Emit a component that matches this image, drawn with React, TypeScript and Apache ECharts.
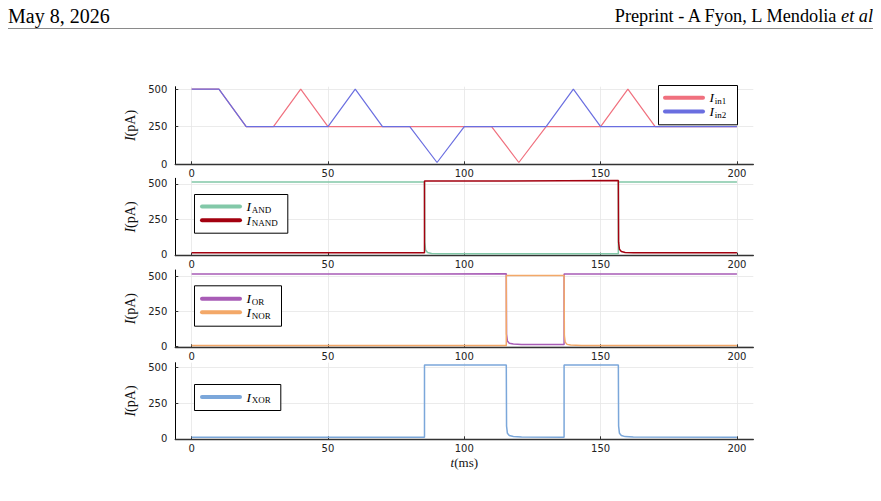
import React, { useEffect, useRef } from "react";
import * as echarts from "echarts";

// Input currents (pA) at the corners of the piecewise-linear stimuli
const in1Times = [0, 10, 20, 30, 40, 50, 110, 120, 130, 150, 160, 170, 200];
const in1Values = [500, 500, 250, 250, 500, 250, 250, 10, 250, 250, 500, 250, 250];
const in2Times = [0, 10, 20, 50, 60, 70, 80, 90, 100, 130, 140, 150, 200];
const in2Values = [500, 500, 250, 250, 500, 250, 250, 10, 250, 250, 500, 250, 250];

// Gate output currents (pA)
const andTimes = [0, 85.4, 85.5, 85.8, 86.5, 88, 91, 156.5, 156.5, 200];
const andValues = [514, 514, 90, 35, 18, 11, 8, 8, 514, 514];
const nandTimes = [0, 85.4, 85.4, 115.4, 115.4, 136.6, 136.6, 156.5, 156.6, 156.9, 157.6, 159, 162, 200];
const nandValues = [15, 15, 521, 521, 523, 523, 524, 524, 90, 40, 24, 18, 15, 15];

const orTimes = [0, 85, 85, 115.4, 115.5, 115.8, 116.5, 118, 121, 136.6, 136.6, 200];
const orValues = [519, 519, 521, 521, 90, 40, 24, 18, 15, 15, 519, 519];
const norTimes = [0, 115.4, 115.4, 136.6, 136.7, 137, 137.7, 139, 143, 200];
const norValues = [8, 8, 509, 509, 80, 32, 16, 11, 8, 8];

const xorTimes = [0, 85.4, 85.4, 115.4, 115.5, 115.8, 116.5, 118, 121, 136.6, 136.6, 156.5, 156.6, 156.9, 157.6, 159, 162, 200];
const xorValues = [12, 12, 518, 518, 90, 40, 24, 16, 13, 12, 518, 518, 90, 40, 24, 16, 13, 12];

// Axis ticks
const xTicks = [0, 50, 100, 150, 200];
const yTicks = [0, 250, 500];

// Trace subscripts and colours
const traceNames = ["in1", "in2", "AND", "NAND", "OR", "NOR", "XOR"];
const traceColors = ["#f0707e", "#6a6ee0", "#82c8a8", "#a3000f", "#a85cb6", "#f3a868", "#7ba7da"];

const SERIF = '"Liberation Serif", "DejaVu Serif", serif';
const SANS = '"DejaVu Sans", "Liberation Sans", sans-serif';

const zip = (t: number[], v: number[]) => t.map((x, i) => [x, v[i]]);

// Plot panels: pixel placement and y ranges
const panels = [
  { top: 86.7, height: 77.6, ymin: -2, ymax: 516 },
  { top: 178.3, height: 77.4, ymin: -5, ymax: 540 },
  { top: 270, height: 77.3, ymin: -5, ymax: 548 },
  { top: 362.7, height: 76.6, ymin: -3, ymax: 535 },
];

// Legend boxes (pixel placement) and the traces they list
const legendBoxes = [
  { x: 658, y: 85, w: 79, h: 39.3, lineX: 663, traces: [0, 1] },
  { x: 194, y: 194, w: 93.3, h: 38.7, lineX: 200, traces: [2, 3] },
  { x: 194, y: 285.3, w: 87, h: 40.4, lineX: 200, traces: [4, 5] },
  { x: 194, y: 384, w: 86.3, h: 26, lineX: 200, traces: [6] },
];

const gridLine = { show: true, lineStyle: { color: "#e6e6e6", width: 0.8 } };

function buildLegendGraphics() {
  const out: any[] = [];
  legendBoxes.forEach((b) => {
    out.push({
      type: "rect",
      z: 100,
      shape: { x: b.x + 0.5, y: b.y + 0.5, width: b.w, height: b.h },
      style: { fill: "#fff", stroke: "#000", lineWidth: 1 },
    });
    const n = b.traces.length;
    const rowGap = 13.7;
    const firstY = b.y + b.h / 2 - ((n - 1) * rowGap) / 2;
    b.traces.forEach((ti, k) => {
      const yy = firstY + k * rowGap;
      out.push({
        type: "line",
        z: 101,
        shape: { x1: b.lineX + 2, y1: yy, x2: b.lineX + 40, y2: yy },
        style: { stroke: traceColors[ti], lineWidth: 4, lineCap: "round" },
      });
      out.push({
        type: "text",
        z: 101,
        x: b.lineX + 46.5,
        y: yy,
        style: {
          text: "I",
          fontFamily: SERIF,
          fontStyle: "italic",
          fontSize: 13.5,
          fill: "#000",
          align: "left",
          verticalAlign: "middle",
        },
      });
      out.push({
        type: "text",
        z: 101,
        x: b.lineX + 51.8,
        y: yy + 3.2,
        style: {
          text: traceNames[ti],
          fontFamily: SERIF,
          fontSize: 9,
          fill: "#000",
          align: "left",
          verticalAlign: "middle",
        },
      });
    });
  });
  return out;
}

function buildOption(): echarts.EChartsOption {
  const grid = panels.map((p) => ({
    left: 175.3,
    width: 578,
    top: p.top,
    height: p.height,
    containLabel: false,
    outerBoundsMode: "none",
  }));

  const xAxis = panels.map((_, i) => ({
    type: "value",
    gridIndex: i,
    min: -6,
    max: 206,
    name: i === 3 ? "{i|t}{r|(ms)}" : "",
    nameLocation: "middle",
    nameGap: 17,
    nameTextStyle: {
      rich: {
        i: { fontFamily: SERIF, fontStyle: "italic", fontSize: 13, color: "#111" },
        r: { fontFamily: SERIF, fontSize: 13, color: "#111" },
      },
    },
    axisLine: { show: true, onZero: false, lineStyle: { color: "#333", width: 1.4 } },
    axisTick: { show: true, inside: true, length: 3, customValues: xTicks, lineStyle: { color: "#333" } },
    axisLabel: { customValues: xTicks, fontFamily: SANS, fontSize: 10, color: "#222", margin: 4 },
    splitLine: gridLine,
  }));

  const yAxis = panels.map((p, i) => ({
    type: "value",
    gridIndex: i,
    min: p.ymin,
    max: p.ymax,
    name: "{i|I}{r|(pA)}",
    nameLocation: "middle",
    nameRotate: 90,
    nameGap: 33,
    nameTextStyle: {
      rich: {
        i: { fontFamily: SERIF, fontStyle: "italic", fontSize: 14, color: "#111" },
        r: { fontFamily: SERIF, fontSize: 14, color: "#111" },
      },
    },
    axisLine: { show: true, onZero: false, lineStyle: { color: "#000", width: 1 } },
    axisTick: { show: true, inside: true, length: 3, customValues: yTicks, lineStyle: { color: "#333" } },
    axisLabel: { customValues: yTicks, fontFamily: SANS, fontSize: 10, color: "#222", margin: 8 },
    splitLine: gridLine,
  }));

  const line = (ti: number, idx: number, t: number[], v: number[], width = 1.3) => ({
    type: "line",
    name: traceNames[ti],
    xAxisIndex: idx,
    yAxisIndex: idx,
    data: zip(t, v),
    showSymbol: false,
    symbol: "none",
    color: traceColors[ti],
    lineStyle: { color: traceColors[ti], width },
  });

  const series = [
    line(0, 0, in1Times, in1Values, 1.2),
    line(1, 0, in2Times, in2Values, 1.2),
    line(2, 1, andTimes, andValues, 1.5),
    line(3, 1, nandTimes, nandValues, 1.5),
    line(4, 2, orTimes, orValues, 1.5),
    line(5, 2, norTimes, norValues, 1.5),
    line(6, 3, xorTimes, xorValues, 1.5),
  ];

  const graphic = [
    {
      type: "text",
      x: 8,
      y: 15.5,
      style: {
        text: "May 8, 2026",
        fontFamily: SERIF,
        fontSize: 20,
        fill: "#000",
        align: "left",
        verticalAlign: "middle",
      },
    },
    {
      type: "text",
      x: 873,
      y: 15.5,
      style: {
        text: "{n|Preprint - A Fyon, L Mendolia }{it|et al}",
        align: "right",
        verticalAlign: "middle",
        fontFamily: SERIF,
        fontSize: 18.3,
        fill: "#000",
        rich: {
          n: { fontFamily: SERIF, fontSize: 18.3, fill: "#000" },
          it: { fontFamily: SERIF, fontSize: 18.3, fontStyle: "italic", fill: "#000" },
        },
      },
    },
    {
      type: "line",
      shape: { x1: 8, y1: 28.5, x2: 873, y2: 28.5 },
      style: { stroke: "#8a8a8a", lineWidth: 1 },
    },
    ...buildLegendGraphics(),
  ];

  return {
    animation: false,
    backgroundColor: "#fff",
    grid,
    xAxis,
    yAxis,
    series,
    graphic,
  } as echarts.EChartsOption;
}

export default function App() {
  const ref = useRef<HTMLDivElement>(null);
  useEffect(() => {
    if (!ref.current) return;
    const chart = echarts.init(ref.current, undefined, { renderer: "svg" });
    chart.setOption(buildOption());
    return () => chart.dispose();
  }, []);
  return (
    <div
      ref={ref}
      style={{ position: "fixed", left: 0, top: 0, width: 881, height: 501, background: "#fff" }}
    />
  );
}
